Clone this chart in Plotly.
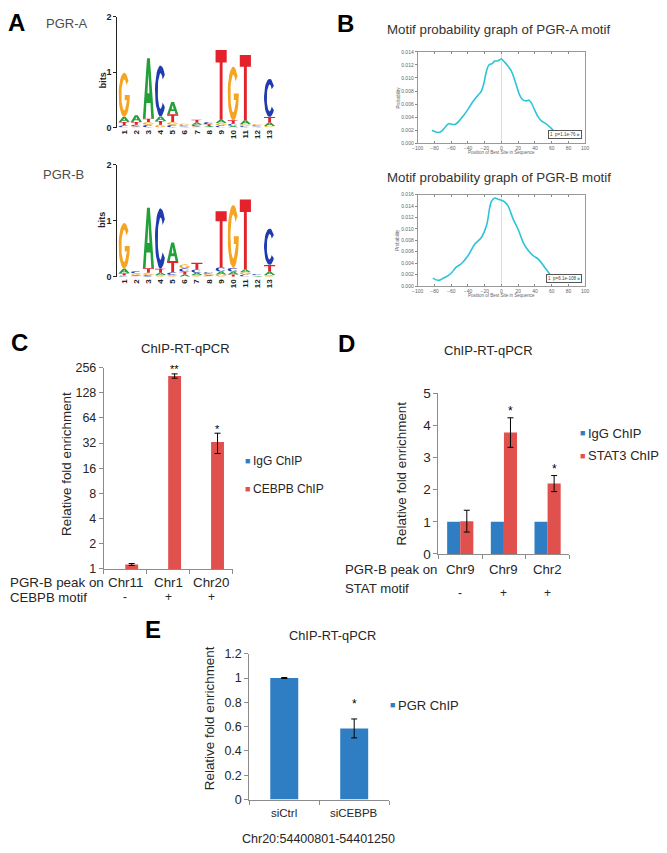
import numpy as np
import plotly.graph_objects as go

W, H = 667, 853
def X(px): return px / W
def Y(py): return 1 - py / H

FONT = "Liberation Sans, Arial, sans-serif"
BLUE = "#2f7ec3"
RED = "#e0504d"
CYAN = "#2cc4d6"
AXC = "#8c8c8c"
TXT = "#262626"

# ---------------- data ----------------
logo_pos = list(range(1, 14))
# PGR-A motif letter heights (bits)
pgra_A = [0.09, 0.12, 1.09, 0.08, 0.22, 0.01, 0.04, 0.02, 0.06, 0.03, 0.07, 0.01, 0.06]
pgra_C = [0.04, 0.03, 0.05, 0.92, 0.05, 0.02, 0.03, 0.04, 0.04, 0.04, 0.03, 0.02, 0.69]
pgra_G = [0.80, 0.02, 0.05, 0.05, 0.05, 0.03, 0.02, 0.01, 0.04, 0.97, 0.03, 0.02, 0.03]
pgra_T = [0.06, 0.05, 0.06, 0.07, 0.14, 0.01, 0.05, 0.03, 1.26, 0.06, 1.18, 0.01, 0.10]
# PGR-B motif letter heights (bits)
pgrb_A = [0.08, 0.02, 1.08, 0.04, 0.33, 0.04, 0.04, 0.02, 0.05, 0.05, 0.05, 0.01, 0.06]
pgrb_C = [0.02, 0.04, 0.03, 1.08, 0.05, 0.06, 0.06, 0.03, 0.08, 0.07, 0.04, 0.02, 0.65]
pgrb_G = [0.82, 0.03, 0.04, 0.03, 0.03, 0.07, 0.03, 0.02, 0.04, 1.12, 0.04, 0.01, 0.03]
pgrb_T = [0.04, 0.01, 0.08, 0.07, 0.20, 0.05, 0.12, 0.01, 1.00, 0.04, 1.25, 0.01, 0.12]

# motif probability curves
probA_x = [-83, -79, -75, -71, -67, -63, -59, -55, -50, -45, -40, -35, -31, -27, -24, -21, -18, -15,
           -11, -8, -5, -2, 0, 4, 8, 12, 15, 18, 22, 26, 30, 33, 36, 40, 44, 48, 53, 57, 60, 64]
probA_y = [0.0020, 0.00175, 0.00166, 0.0019, 0.0025, 0.0030, 0.0029, 0.0029, 0.0035, 0.0043, 0.0052,
           0.0062, 0.0069, 0.0075, 0.0080, 0.0092, 0.0110, 0.0120, 0.0122, 0.0126, 0.0126, 0.0128,
           0.0129, 0.0124, 0.0118, 0.0110, 0.0100, 0.0088, 0.0073, 0.0066, 0.0065, 0.0066, 0.0061,
           0.0050, 0.0040, 0.0034, 0.0030, 0.0026, 0.0022, 0.0017]
probB_x = [-82, -75, -69, -61, -54, -48, -40, -32, -24, -18, -12, -8, -4, 0, 4, 8, 14, 20, 26, 32,
           38, 44, 50, 56, 60]
probB_y = [0.00139, 0.00098, 0.00139, 0.0021, 0.0033, 0.0039, 0.0053, 0.0073, 0.0085, 0.0105, 0.0148,
           0.0154, 0.0152, 0.0150, 0.0147, 0.0140, 0.0117, 0.0099, 0.0076, 0.0062, 0.0053, 0.0047,
           0.0036, 0.0024, 0.0016]
probA_label = "1  p=1.1e-76"
probB_label = "1  p=6.1e-108"

# panel C
c_categories = ["Chr11", "Chr1", "Chr20"]
c_motif = ["-", "+", "+"]
c_igg = [1, 1, 1]
c_cebpb = [1.13, 203, 33]
c_cebpb_err = [0.03, 12, 9]
c_stars = ["", "**", "*"]
c_yticks = [1, 2, 4, 8, 16, 32, 64, 128, 256]
c_series = ["IgG ChIP", "CEBPB ChIP"]

# panel D
d_categories = ["Chr9", "Chr9", "Chr2"]
d_motif = ["-", "+", "+"]
d_igg = [1, 1, 1]
d_stat3 = [1.02, 3.78, 2.19]
d_stat3_err = [0.34, 0.46, 0.25]
d_stars = ["", "*", "*"]
d_series = ["IgG ChIP", "STAT3 ChIP"]

# panel E
e_categories = ["siCtrl", "siCEBPB"]
e_pgr = [1.0, 0.585]
e_pgr_err = [0.004, 0.078]
e_stars = ["", "*"]
e_series = ["PGR ChIP"]
e_yticks = [0, 0.2, 0.4, 0.6, 0.8, 1.0, 1.2]

# ---------------- logo glyphs ----------------
LOGO_COLORS = {"A": "#22a03a", "C": "#1f3bb0", "G": "#f5a521", "T": "#e4222b"}

def arc(cx, cy, rx, ry, a0, a1, n=28):
    t = np.radians(np.linspace(a0, a1, n))
    return list(zip(cx + rx * np.cos(t), cy + ry * np.sin(t)))

def glyph(letter):
    if letter == "T":
        return [[(0, 1), (1, 1), (1, 0.82), (0.63, 0.82), (0.63, 0), (0.37, 0), (0.37, 0.82), (0, 0.82)]], []
    if letter == "A":
        return ([[(0, 0), (0.37, 1), (0.63, 1), (1, 0), (0.76, 0), (0.68, 0.26), (0.32, 0.26), (0.24, 0)]],
                [[(0.41, 0.42), (0.5, 0.76), (0.59, 0.42)]])
    if letter == "C":
        return [arc(0.5, 0.5, 0.5, 0.5, 40, 320) + arc(0.5, 0.5, 0.25, 0.35, 320, 40)], []
    # G
    pts = arc(0.5, 0.5, 0.5, 0.5, 40, 360) + [(0.55, 0.5), (0.55, 0.38), (0.75, 0.38)] + \
        arc(0.5, 0.5, 0.25, 0.35, 330, 40)
    return [pts], []

def logo_traces(heights, xa, ya):
    polys = {k: ([], []) for k in "ACGT"}
    holes = ([], [])
    for i, p in enumerate(logo_pos):
        col = sorted((heights[k][i], k) for k in "ACGT")
        base = 0.0
        for h, k in col:
            shapes, hs = glyph(k)
            for poly in shapes:
                for (u, v) in poly:
                    polys[k][0].append(p - 0.46 + 0.92 * u)
                    polys[k][1].append(base + h * v)
                polys[k][0].append(None)
                polys[k][1].append(None)
            for poly in hs:
                for (u, v) in poly:
                    holes[0].append(p - 0.46 + 0.92 * u)
                    holes[1].append(base + h * v)
                holes[0].append(None)
                holes[1].append(None)
            base += h
    out = []
    for k in "ACGT":
        out.append(go.Scatter(x=polys[k][0], y=polys[k][1], mode="lines", fill="toself",
                              fillcolor=LOGO_COLORS[k], line=dict(width=0, color=LOGO_COLORS[k]),
                              hoverinfo="skip", xaxis=xa, yaxis=ya))
    out.append(go.Scatter(x=holes[0], y=holes[1], mode="lines", fill="toself", fillcolor="white",
                          line=dict(width=0, color="white"), hoverinfo="skip", xaxis=xa, yaxis=ya))
    return out

fig = go.Figure()
for t in logo_traces({"A": pgra_A, "C": pgra_C, "G": pgra_G, "T": pgra_T}, "x", "y"):
    fig.add_trace(t)
for t in logo_traces({"A": pgrb_A, "C": pgrb_C, "G": pgrb_G, "T": pgrb_T}, "x2", "y2"):
    fig.add_trace(t)

# motif probability curves
fig.add_trace(go.Scatter(x=probA_x, y=probA_y, mode="lines", line=dict(color=CYAN, width=1.6, shape="spline"),
                         xaxis="x3", yaxis="y3"))
fig.add_trace(go.Scatter(x=probB_x, y=probB_y, mode="lines", line=dict(color=CYAN, width=1.6, shape="spline"),
                         xaxis="x4", yaxis="y4"))

BW = 0.3
err_style = dict(type="data", color="black", thickness=1, width=3, visible=True)
# C
cx = list(range(len(c_categories)))
fig.add_trace(go.Bar(x=cx, y=c_igg, width=BW, offset=-BW, marker=dict(color=BLUE, line=dict(width=0)),
                     xaxis="x5", yaxis="y5", name=c_series[0]))
fig.add_trace(go.Bar(x=cx, y=c_cebpb, width=BW, offset=0, marker=dict(color=RED, line=dict(width=0)),
                     error_y=dict(array=c_cebpb_err, **err_style), xaxis="x5", yaxis="y5", name=c_series[1]))
# D
dx = list(range(len(d_categories)))
fig.add_trace(go.Bar(x=dx, y=d_igg, width=BW, offset=-BW, marker=dict(color=BLUE, line=dict(width=0)),
                     xaxis="x6", yaxis="y6", name=d_series[0]))
fig.add_trace(go.Bar(x=dx, y=d_stat3, width=BW, offset=0, marker=dict(color=RED, line=dict(width=0)),
                     error_y=dict(array=d_stat3_err, **err_style), xaxis="x6", yaxis="y6", name=d_series[1]))
# E
EW = 0.4
ex = list(range(len(e_categories)))
fig.add_trace(go.Bar(x=ex, y=e_pgr, width=EW, offset=-EW / 2, marker=dict(color=BLUE, line=dict(width=0)),
                     error_y=dict(array=e_pgr_err, **err_style), xaxis="x7", yaxis="y7", name=e_series[0]))

# ---------------- axes ----------------
def dx_(a, b): return [X(a), X(b)]
def dy_(top, bottom): return [Y(bottom), Y(top)]

lay = dict(width=W, height=H, margin=dict(l=0, r=0, t=0, b=0), paper_bgcolor="white",
           plot_bgcolor="white", showlegend=False, barmode="overlay",
           font=dict(family=FONT, color=TXT))

# logos
for n, (top, bot) in zip(["", "2"], [(10, 122.7), (160.5, 274.5)]):
    lay["xaxis" + n] = dict(domain=dx_(113, 274), range=[0.43, 13.52], anchor="y" + n,
                            tickvals=logo_pos, ticktext=[str(p) for p in logo_pos], tickangle=-90,
                            tickfont=dict(size=8, weight="bold", color="#222"), ticks="", showline=False,
                            showgrid=False, zeroline=False)
    lay["yaxis" + n] = dict(domain=dy_(top, bot), range=[0, 2], anchor="x" + n, tickvals=[0, 1, 2],
                            tickfont=dict(size=9, weight="bold", color="#222"), ticks="outside", ticklen=3,
                            tickcolor="#222", showline=True, linecolor="#222", linewidth=1,
                            showgrid=False, zeroline=False)

# probability graphs
for n, (top, bot), ymax in [("3", (45.7, 138.7), 0.014), ("4", (191, 284), 0.016)]:
    lay["xaxis" + n] = dict(domain=dx_(418, 588), range=[-100, 100], anchor="y" + n,
                            tickvals=list(range(-100, 101, 20)), tickfont=dict(size=5, color="#666"),
                            ticks="inside", ticklen=2, tickcolor="#888", showline=True, mirror="ticks",
                            linecolor="#999", linewidth=1, showgrid=False, zeroline=True,
                            zerolinecolor="#dddddd", zerolinewidth=1)
    lay["yaxis" + n] = dict(domain=dy_(top, bot), range=[0, ymax], anchor="x" + n,
                            tickvals=list(np.round(np.arange(0, ymax + 1e-9, 0.002), 3)), tickformat=".3f",
                            tickfont=dict(size=5, color="#666"), ticks="outside", ticklen=2, tickcolor="#888",
                            showline=True, mirror=True, linecolor="#999", linewidth=1, showgrid=False,
                            zeroline=False)

def bar_x(n, dom, ncat):
    return dict(domain=dom, range=[-0.5, ncat - 0.5], anchor="y" + n,
                tickvals=[i - 0.5 for i in range(ncat + 1)], ticktext=[""] * (ncat + 1),
                ticks="outside", ticklen=4, tickcolor=AXC, showline=True, linecolor=AXC, linewidth=1,
                showgrid=False, zeroline=False)

lay["xaxis5"] = bar_x("5", dx_(99.3, 230), len(c_categories))
lay["yaxis5"] = dict(domain=dy_(367, 572), type="log", range=[0, np.log10(256)], anchor="x5",
                     tickvals=c_yticks, ticktext=[str(v) for v in c_yticks], tickfont=dict(size=12.5, color=TXT),
                     ticks="outside", ticklen=4, tickcolor=AXC, showline=True, linecolor=AXC, linewidth=1,
                     showgrid=False, zeroline=False)
lay["xaxis6"] = bar_x("6", dx_(439, 572), len(d_categories))
lay["yaxis6"] = dict(domain=dy_(393.3, 556.7), range=[0, 5], anchor="x6", tickvals=[0, 1, 2, 3, 4, 5],
                     tickfont=dict(size=13.5, color=TXT), ticks="outside", ticklen=4, tickcolor=AXC,
                     showline=True, linecolor=AXC, linewidth=1, showgrid=False, zeroline=False)
lay["xaxis7"] = bar_x("7", dx_(247, 389), len(e_categories))
lay["yaxis7"] = dict(domain=dy_(658.3, 806.7), range=[0, 1.2], anchor="x7", tickvals=e_yticks,
                     ticktext=["0", "0.2", "0.4", "0.6", "0.8", "1", "1.2"], tickfont=dict(size=12.5, color=TXT),
                     ticks="outside", ticklen=4, tickcolor=AXC, showline=True, linecolor=AXC, linewidth=1,
                     showgrid=False, zeroline=False)

# ---------------- text ----------------
ann = []
def txt(text, x, y, size, xanchor="center", yanchor="middle", color=TXT, bold=False, angle=0,
        xref="paper", yref="paper", **kw):
    d = dict(text=text, x=x, y=y, xref=xref, yref=yref, xanchor=xanchor, yanchor=yanchor,
             showarrow=False, textangle=angle,
             font=dict(size=size, color=color, family=FONT, weight="bold" if bold else "normal"))
    d.update(kw)
    ann.append(d)

# panel letters
for L, px, py in [("A", 11, 15.5), ("B", 345, 16.5), ("C", 14, 342), ("D", 346, 343), ("E", 149, 634)]:
    txt(L, X(px), Y(py), 24, bold=True, color="black")

# A
txt("PGR-A", X(62), Y(17), 13, color="#4d4d4d")
txt("PGR-B", X(58), Y(170), 13, color="#4d4d4d")
txt("bits", X(98), Y(75), 9, bold=True, angle=-90, color="#222")
txt("bits", X(98), Y(217), 9, bold=True, angle=-90, color="#222")

# B
txt("Motif probability graph of PGR-A motif", X(500), Y(23), 13.3, color="#333")
txt("Motif probability graph of PGR-B motif", X(500), Y(174), 13.3, color="#333")
for yy in (148, 294):
    txt("Position of Best Site in Sequence", X(503), Y(yy), 4.5, color="#666")
for yy in (92, 237):
    txt("Probability", X(398), Y(yy), 4.5, color="#666", angle=-90)
sq = "<span style='color:%s'>■</span>" % CYAN
txt(probA_label + " " + sq, X(585), Y(134.5), 4.5, xanchor="right", yanchor="bottom", color="#444",
    bgcolor="white", bordercolor="#555", borderwidth=1, borderpad=1)
txt(probB_label + " " + sq, X(585), Y(281), 4.5, xanchor="right", yanchor="bottom", color="#444",
    bgcolor="white", bordercolor="#555", borderwidth=1, borderpad=1)

def legend_item(name, color, sq_px, text_px, py, size):
    txt("■", X(sq_px), Y(py), 9, color=color)
    txt(name, X(text_px), Y(py), size, xanchor="left")

# C
txt("ChIP-RT-qPCR", X(182), Y(348), 13)
txt("Relative fold enrichment", X(62), Y(465), 13.4, angle=-90)
legend_item(c_series[0], BLUE, 245, 248.5, 462, 12)
legend_item(c_series[1], RED, 245, 248.5, 491, 12)
txt("PGR-B peak on", X(2), Y(586), 13.4, xanchor="left")
txt("CEBPB motif", X(2), Y(601), 13.2, xanchor="left")
for i, (cat, m, s) in enumerate(zip(c_categories, c_motif, c_stars)):
    txt(cat, i, Y(586), 13.4, xref="x5")
    txt(m, i, Y(601), 12, xref="x5")
    if s:
        txt(s, i + BW / 2, np.log10(c_cebpb[i] + c_cebpb_err[i]), 11, xref="x5", yref="y5", yshift=4.5,
            color="black")

# D
txt("ChIP-RT-qPCR", X(490), Y(350), 13)
txt("Relative fold enrichment", X(402), Y(475), 13.4, angle=-90)
legend_item(d_series[0], BLUE, 585, 588.5, 434, 13)
legend_item(d_series[1], RED, 585, 588.5, 457, 13)
txt("PGR-B peak on", X(342), Y(573), 13.2, xanchor="left")
txt("STAT motif", X(342), Y(592), 13.2, xanchor="left")
for i, (cat, m, s) in enumerate(zip(d_categories, d_motif, d_stars)):
    txt(cat, i, Y(573), 13.2, xref="x6")
    txt(m, i, Y(596), 12, xref="x6")
    if s:
        txt(s, i + BW / 2, d_stat3[i] + d_stat3_err[i], 12, xref="x6", yref="y6", yshift=7, color="black")

# E
txt("ChIP-RT-qPCR", X(331), Y(640), 12.8)
txt("Relative fold enrichment", X(206), Y(724), 13.4, angle=-90)
legend_item(e_series[0], BLUE, 392, 396, 711, 13)
for i, (cat, s) in enumerate(zip(e_categories, e_stars)):
    txt(cat, i, Y(820), 11.5, xref="x7")
    if s:
        txt(s, i, e_pgr[i] + e_pgr_err[i], 12, xref="x7", yref="y7", yshift=14.5, color="black")
txt("Chr20:54400801-54401250", X(317), Y(847), 12.5)

lay["annotations"] = ann
fig.update_layout(**lay)
fig.write_html("out.html", config={"displayModeBar": False},
               post_script="document.body.style.margin='0px';")
